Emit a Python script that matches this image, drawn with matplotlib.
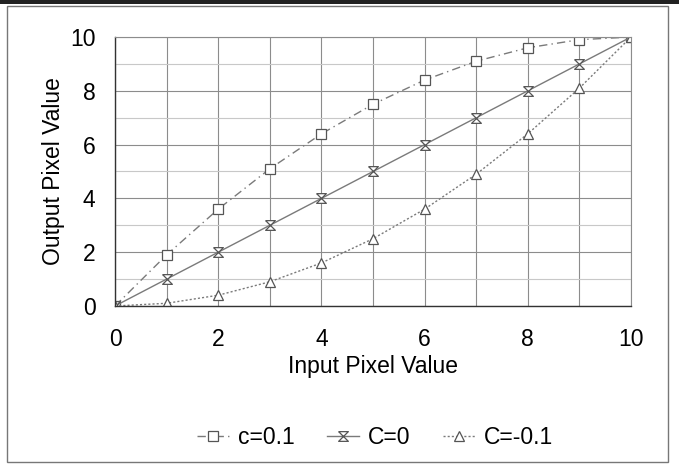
import numpy as np
import matplotlib
matplotlib.use('Agg')
import matplotlib.pyplot as plt
from matplotlib.path import Path
from matplotlib.patches import Rectangle

plt.rcParams['font.family'] = ['Liberation Sans', 'DejaVu Sans']

# data
x_vals = [0, 1, 2, 3, 4, 5, 6, 7, 8, 9, 10]
c_pos = [0, 1.9, 3.6, 5.1, 6.4, 7.5, 8.4, 9.1, 9.6, 9.9, 10]
c_zero = [0, 1, 2, 3, 4, 5, 6, 7, 8, 9, 10]
c_neg = [0, 0.1, 0.4, 0.9, 1.6, 2.5, 3.6, 4.9, 6.4, 8.1, 10]
labels = ['c=0.1', 'C=0', 'C=-0.1']

# hourglass-like marker (x with bars top and bottom)
hg = Path([(-1, 1), (1, 1), (-1, -1), (1, -1), (-1, 1)],
          [Path.MOVETO, Path.LINETO, Path.LINETO, Path.LINETO, Path.LINETO])

fig = plt.figure(figsize=(6.79, 4.68), dpi=100)
ax = fig.add_axes([0.1694, 0.3462, 0.7599, 0.5747])

col = '#7a7a7a'
ax.plot(x_vals, c_pos, color=col, lw=1, linestyle=(0, (6, 3, 1, 3)), marker='s', ms=7.5,
        mfc='white', mec='#555555', mew=0.9, label=labels[0])
ax.plot(x_vals, c_zero, color=col, lw=1, linestyle='-', marker=hg, ms=7,
        mfc='white', mec='#555555', mew=0.9, label=labels[1])
ax.plot(x_vals, c_neg, color=col, lw=1, linestyle=(0, (1.5, 1.5)), marker='^', ms=7.5,
        mfc='white', mec='#555555', mew=0.9, label=labels[2])

ax.set_xlim(0, 10)
ax.set_ylim(0, 10)
ax.set_xticks([0, 2, 4, 6, 8, 10])
ax.set_yticks([0, 2, 4, 6, 8, 10])
ax.set_xticks(range(0, 11), minor=True)
ax.set_yticks([1, 3, 5, 7, 9], minor=True)
ax.grid(True, which='major', color='#8c8c8c', lw=0.8)
ax.grid(True, which='minor', axis='x', color='#8c8c8c', lw=0.8)
ax.grid(True, which='minor', axis='y', color='#c8c8c8', lw=0.8)
ax.set_axisbelow(True)
ax.tick_params(which='both', length=0, labelsize=16.5, colors='black')
ax.tick_params(axis='x', pad=16)
ax.tick_params(axis='y', pad=14)

for s in ['top', 'right']:
    ax.spines[s].set_color('#8c8c8c')
    ax.spines[s].set_linewidth(0.8)
for s in ['left', 'bottom']:
    ax.spines[s].set_color('#333333')
    ax.spines[s].set_linewidth(1.0)

ax.set_xlabel('Input Pixel Value', fontsize=16.5, labelpad=3)
ax.set_ylabel('Output Pixel Value', fontsize=16.5, labelpad=4)

fig.legend(loc='center', bbox_to_anchor=(0.552, 0.066), ncol=3, frameon=False,
           fontsize=16.5, handlelength=1.4, columnspacing=1.4, handletextpad=0.4)

# outer frame and top strip
fig.patches.append(Rectangle((7 / 679, 6 / 468), 661 / 679, 456 / 468, transform=fig.transFigure,
                             fill=False, ec='#777777', lw=1))
fig.patches.append(Rectangle((0, 1 - 4 / 468), 1, 4 / 468, transform=fig.transFigure,
                             fc='#222222', ec='none'))

plt.savefig('out.png', dpi=100)
